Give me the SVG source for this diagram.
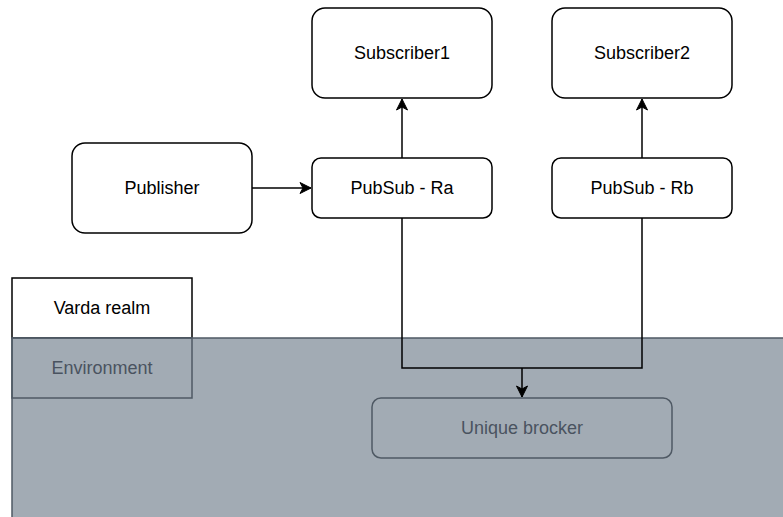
<svg xmlns="http://www.w3.org/2000/svg" width="783" height="517" viewBox="0 0 783 517">
<defs>
<marker id="arr" markerWidth="14" markerHeight="14" refX="12" refY="7" orient="auto" markerUnits="userSpaceOnUse">
<path d="M1,1.5 L12,7 L1,12.5 L4,7 Z" fill="#000" stroke="#000" stroke-width="1"/>
</marker>
<style>
.node{fill:#fff;stroke:#000;stroke-width:1.5}
.lbl{font-family:"Liberation Sans",Arial,sans-serif;font-size:18px;fill:#000;text-anchor:middle;dominant-baseline:central}
.env{fill:#a2abb4;stroke:#4f5964;stroke-width:1.5}
.glbl{font-family:"Liberation Sans",Arial,sans-serif;font-size:18px;fill:#4a5360;text-anchor:middle;dominant-baseline:central}
.edge{fill:none;stroke:#000;stroke-width:1.5}
</style>
</defs>
<g id="varda-realm">
<rect x="12" y="278" width="180" height="60" class="node"/>
<text x="102" y="308" class="lbl">Varda realm</text>
</g>
<g id="environment-area">
<rect x="12" y="338" width="790" height="200" class="env"/>
</g>
<g id="environment">
<rect x="12" y="338" width="180" height="60" class="env" fill-opacity="0"/>
<text x="102" y="368" class="glbl">Environment</text>
</g>
<g id="subscriber1">
<rect x="312" y="8" width="180" height="90" rx="13" class="node"/>
<text x="402" y="53" class="lbl">Subscriber1</text>
</g>
<g id="subscriber2">
<rect x="552" y="8" width="180" height="90" rx="13" class="node"/>
<text x="642" y="53" class="lbl">Subscriber2</text>
</g>
<g id="publisher">
<rect x="72" y="143" width="180" height="90" rx="13" class="node"/>
<text x="162" y="188" class="lbl">Publisher</text>
</g>
<g id="pubsub-ra">
<rect x="312" y="158" width="180" height="60" rx="9" class="node"/>
<text x="402" y="188" class="lbl">PubSub - Ra</text>
</g>
<g id="pubsub-rb">
<rect x="552" y="158" width="180" height="60" rx="9" class="node"/>
<text x="642" y="188" class="lbl">PubSub - Rb</text>
</g>
<g id="unique-brocker">
<rect x="372" y="398" width="300" height="60" rx="9" fill="none" stroke="#4f5964" stroke-width="1.5"/>
<text x="522" y="428" class="glbl">Unique brocker</text>
</g>
<g id="connectors">
<path d="M252,188 L311,188" class="edge" marker-end="url(#arr)"/>
<path d="M402,158 L402,99" class="edge" marker-end="url(#arr)"/>
<path d="M642,158 L642,99" class="edge" marker-end="url(#arr)"/>
<path d="M402,218 L402,368 L642,368 L642,218" class="edge"/>
<path d="M522,368 L522,397" class="edge" marker-end="url(#arr)"/>
</g>
</svg>
